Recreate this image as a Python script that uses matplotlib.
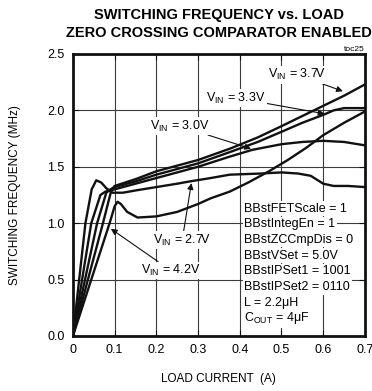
import matplotlib
matplotlib.use("Agg")
import matplotlib.pyplot as plt
from matplotlib import font_manager

# ── data ──────────────────────────────────────────────────────────────────────
I_27 = [0, 0.03, 0.045, 0.056, 0.068, 0.08, 0.095, 0.12, 0.15, 0.2, 0.25, 0.28,
        0.33, 0.376, 0.45, 0.5, 0.54, 0.57, 0.6, 0.625, 0.66, 0.7]
F_27 = [0, 1.0, 1.3, 1.38, 1.36, 1.31, 1.27, 1.27, 1.29, 1.32, 1.35, 1.37,
        1.40, 1.43, 1.44, 1.45, 1.44, 1.42, 1.35, 1.33, 1.33, 1.32]

I_30 = [0, 0.044, 0.066, 0.078, 0.1, 0.15, 0.2, 0.3, 0.376, 0.43, 0.5, 0.55,
        0.6, 0.65, 0.7]
F_30 = [0, 1.0, 1.25, 1.28, 1.30, 1.35, 1.40, 1.50, 1.59, 1.65, 1.70, 1.72,
        1.73, 1.72, 1.69]

I_33 = [0, 0.058, 0.08, 0.09, 0.1, 0.15, 0.2, 0.3, 0.376, 0.443, 0.5, 0.55,
        0.6, 0.625, 0.65, 0.7]
F_33 = [0, 1.0, 1.27, 1.30, 1.32, 1.37, 1.43, 1.53, 1.63, 1.72, 1.81, 1.89,
        1.96, 2.0, 2.02, 2.02]

I_37 = [0, 0.072, 0.092, 0.1, 0.15, 0.2, 0.3, 0.376, 0.443, 0.5, 0.55, 0.6,
        0.65, 0.7]
F_37 = [0, 1.0, 1.29, 1.33, 1.39, 1.46, 1.56, 1.66, 1.76, 1.86, 1.95, 2.04,
        2.13, 2.23]

I_42 = [0, 0.088, 0.1, 0.107, 0.115, 0.13, 0.155, 0.2, 0.25, 0.3, 0.33, 0.376,
        0.42, 0.47, 0.515, 0.56, 0.6, 0.65, 0.7]
F_42 = [0, 1.0, 1.15, 1.19, 1.17, 1.10, 1.05, 1.06, 1.10, 1.17, 1.22, 1.28,
        1.36, 1.46, 1.56, 1.67, 1.78, 1.89, 1.99]

X_TICKS = [0, 0.1, 0.2, 0.3, 0.4, 0.5, 0.6, 0.7]
X_LABELS = ["0", "0.1", "0.2", "0.3", "0.4", "0.5", "0.6", "0.7"]
Y_TICKS = [0.0, 0.5, 1.0, 1.5, 2.0, 2.5]
Y_LABELS = ["0.0", "0.5", "1.0", "1.5", "2.0", "2.5"]

COND_LINES = ["BBstFETScale = 1", "BBstIntegEn = 1", "BBstZCCmpDis = 0",
              "BBstVSet = 5.0V", "BBstIPSet1 = 1001", "BBstIPSet2 = 0110",
              "L = 2.2μH", "C$_{\\mathregular{OUT}}$ = 4μF"]

# ── style ─────────────────────────────────────────────────────────────────────
names = {f.name for f in font_manager.fontManager.ttflist}
FONT = "Liberation Sans Narrow" if "Liberation Sans Narrow" in names else "Liberation Sans"
plt.rcParams.update({
    "font.family": [FONT, "DejaVu Sans"],
    "mathtext.fontset": "custom",
    "mathtext.rm": FONT,
    "font.size": 9,
})
INK = "#111111"
GRID = "#3c3c3c"

fig = plt.figure(figsize=(3.72, 3.91), dpi=100)
ax = fig.add_axes([0.196, 0.1407, 0.785, 0.7213])

for xs, ys in [(I_27, F_27), (I_30, F_30), (I_33, F_33), (I_37, F_37), (I_42, F_42)]:
    ax.plot(xs, ys, color=INK, lw=1.7, solid_joinstyle="round", zorder=3)

ax.set_xlim(0, 0.7)
ax.set_ylim(0, 2.5)
ax.set_xticks(X_TICKS)
ax.set_xticklabels(X_LABELS)
ax.set_yticks(Y_TICKS)
ax.set_yticklabels(Y_LABELS)
ax.tick_params(direction="in", length=4, width=0.8, top=True, right=True,
               labelsize=9, pad=6, color=INK)
ax.grid(True, color=GRID, lw=0.8)
ax.set_axisbelow(True)
for s in ax.spines.values():
    s.set_linewidth(2.0)
    s.set_color(INK)

ax.set_xlabel("LOAD CURRENT  (A)", fontsize=8.5, labelpad=12)
ax.set_ylabel("SWITCHING FREQUENCY (MHz)", fontsize=8.5, labelpad=19)

cx = 0.196 + 0.785 / 2
fig.text(cx, 0.962, "SWITCHING FREQUENCY vs. LOAD", ha="center", va="center",
         fontsize=10.5, fontweight="bold")
fig.text(cx, 0.916, "ZERO CROSSING COMPARATOR ENABLED", ha="center", va="center",
         fontsize=10.5, fontweight="bold")
ax.text(1.0, 1.005, "toc25", transform=ax.transAxes, ha="right", va="bottom", fontsize=6)

box = dict(facecolor="white", edgecolor="none", pad=1.0)
arr = dict(arrowstyle="-|>", color=INK, lw=0.8, mutation_scale=9, shrinkA=0, shrinkB=0)
lab = r"V$_{\mathregular{IN}}$ = %s"

ax.annotate(lab % "3.7V", xy=(0.647, 2.17), xytext=(0.607, 2.315), ha="right", va="center",
            fontsize=9, arrowprops=arr, bbox=box, zorder=5)
ax.annotate(lab % "3.3V", xy=(0.603, 1.97), xytext=(0.462, 2.11), ha="right", va="center",
            fontsize=9, arrowprops=arr, bbox=box, zorder=5)
ax.annotate(lab % "3.0V", xy=(0.427, 1.66), xytext=(0.328, 1.86), ha="right", va="center",
            fontsize=9, arrowprops=arr, bbox=box, zorder=5)
ax.annotate(lab % "2.7V", xy=(0.284, 1.355), xytext=(0.262, 0.85), ha="center", va="center",
            fontsize=9, arrowprops=arr, bbox=box, zorder=5)
ax.annotate(lab % "4.2V", xy=(0.091, 0.95), xytext=(0.235, 0.58), ha="center", va="center",
            fontsize=9, arrowprops=arr, bbox=box, zorder=5)

for i, line in enumerate(COND_LINES):
    ax.text(0.411, 1.13 - i * 0.139, line, ha="left", va="center", fontsize=9,
            bbox=dict(facecolor="white", edgecolor="none", pad=1.2), zorder=4)

fig.savefig("out.png", dpi=100)
